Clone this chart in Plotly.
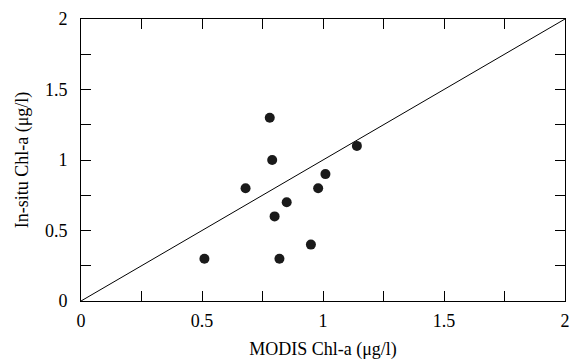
import plotly.graph_objects as go

modis_chl = [0.78, 0.79, 0.68, 1.14, 1.01, 0.98, 0.85, 0.80, 0.95, 0.51, 0.82]
insitu_chl = [1.30, 1.00, 0.80, 1.10, 0.90, 0.80, 0.70, 0.60, 0.40, 0.30, 0.30]
line_x = [0, 2]
line_y = [0, 2]

font = dict(family="Liberation Serif, Times New Roman, serif", size=18, color="black")

fig = go.Figure()
fig.add_trace(go.Scatter(x=line_x, y=line_y, mode="lines",
                         line=dict(color="black", width=1), showlegend=False, hoverinfo="skip"))
fig.add_trace(go.Scatter(x=modis_chl, y=insitu_chl, mode="markers",
                         marker=dict(color="#1a1a1a", size=10), showlegend=False))

axis_common = dict(
    showline=True, linecolor="black", linewidth=1, mirror="ticks",
    ticks="inside", ticklen=10, tickwidth=1, tickcolor="black",
    showgrid=False, zeroline=False, tickfont=font,
    minor=dict(dtick=0.25, ticks="inside", ticklen=10, tickwidth=1, tickcolor="black", showgrid=False),
)
fig.update_xaxes(range=[0, 2], tickvals=[0, 0.5, 1, 1.5, 2],
                 ticktext=["0", "0.5", "1", "1.5", "2"], ticklabelstandoff=3,
                 title=dict(text="MODIS Chl-a (μg/l)", font=font, standoff=12), **axis_common)
fig.update_yaxes(range=[0, 2], tickvals=[0, 0.5, 1, 1.5, 2],
                 ticktext=["0", "0.5", "1", "1.5", "2"], ticklabelstandoff=9,
                 title=dict(text="In-situ Chl-a (μg/l)", font=font, standoff=11), **axis_common)
fig.update_layout(width=579, height=364, margin=dict(l=81, r=9, t=15, b=62),
                  plot_bgcolor="white", paper_bgcolor="white", font=font)
fig.write_html("out.html")
